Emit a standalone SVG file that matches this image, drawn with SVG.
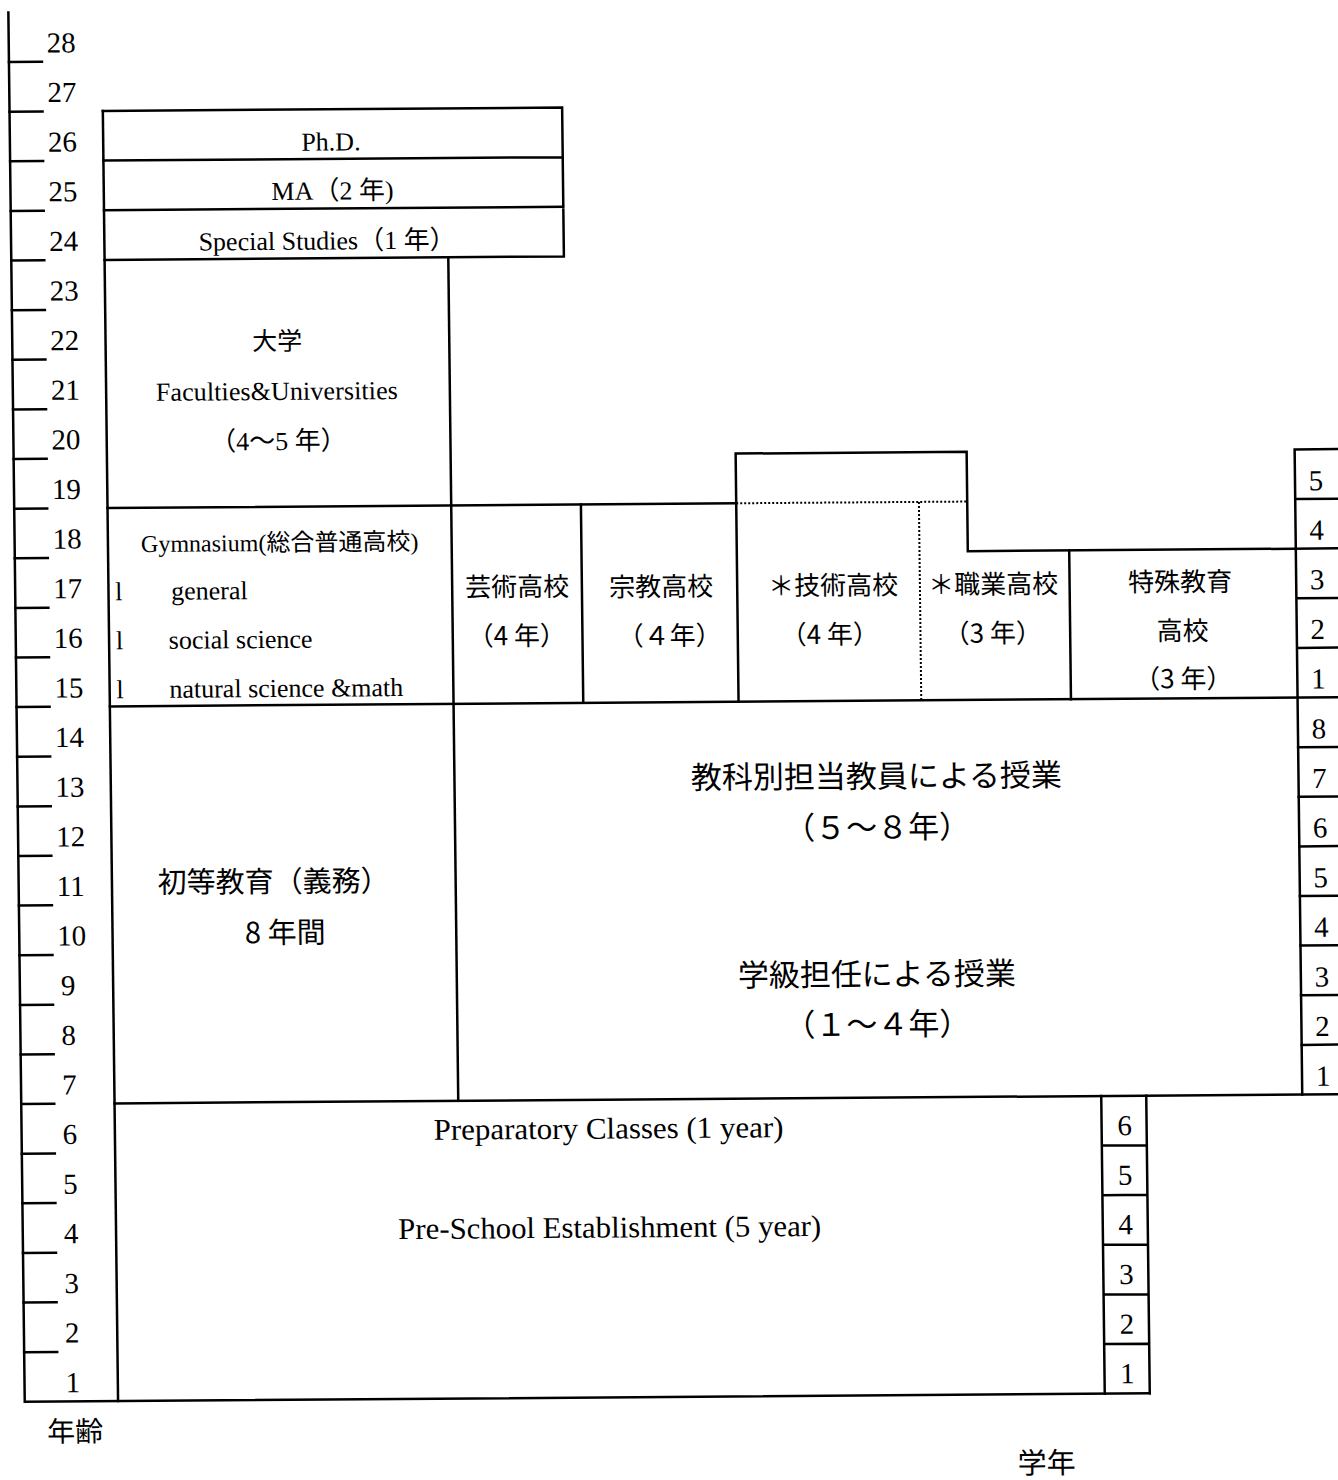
<svg xmlns="http://www.w3.org/2000/svg" width="1338" height="1480" viewBox="0 0 1338 1480">
<style>
.ln{stroke:#000;stroke-width:2.5;fill:none;stroke-linecap:square}
.dt{stroke:#000;stroke-width:2;fill:none;stroke-dasharray:2 2}
.num{font-family:"Liberation Serif",serif;font-size:29px;fill:#000}
.en{font-family:"Liberation Serif","Noto Sans CJK JP",serif;font-size:26px;fill:#000}
.ja{font-family:"Noto Sans CJK JP",sans-serif;font-size:26px;fill:#000}
.jb{font-family:"Noto Sans CJK JP",sans-serif;font-size:31px;fill:#000}
.m{text-anchor:middle}
</style>
<rect width="1338" height="1480" fill="#fff"/>
<g transform="matrix(1,-0.0075,0.0118,1,-8.73,5.02)">
<g id="grid">
<path class="ln" d="M17,7.6V1396.9H1142"/>
<path class="ln" d="M17,57.2H50M17,106.8H50M17,156.4H50M17,206H50M17,255.7H50M17,305.3H50M17,354.9H50M17,404.5H50M17,454.1H50M17,503.8H50M17,553.4H50M17,603H50M17,652.6H50M17,702.2H50M17,751.9H50M17,801.5H50M17,851.1H50M17,900.7H50M17,950.3H50M17,1000H50M17,1049.6H50M17,1099.2H50M17,1148.8H50M17,1198.4H50M17,1248H50M17,1297.7H50M17,1347.3H50"/>
<path class="ln" d="M110.3,106.8V1396.9"/>
<path class="ln" d="M110.3,106.8H569.6V255.7H110.3M110.3,156.4H569.6M110.3,206H569.6"/>
<path class="ln" d="M454,255.7V1099.2"/>
<path class="ln" d="M110.3,503.8H739"/>
<path class="dt" d="M739,503.8H970"/>
<path class="ln" d="M739,702.2V454.1H970V553.4H1345"/>
<path class="ln" d="M583.7,503.8V702.2"/>
<path class="dt" d="M921.7,503.8V702.2"/>
<path class="ln" d="M1071.4,553.4V702.2"/>
<path class="ln" d="M1298,454.1H1345M1298,454.1V1099.2M1298,503.8H1345M1298,603H1345M1298,652.6H1345"/>
<path class="ln" d="M110.3,702.2H1345"/>
<path class="ln" d="M1298,751.9H1345M1298,801.5H1345M1298,851.1H1345M1298,900.7H1345M1298,950.3H1345M1298,1000H1345M1298,1049.6H1345"/>
<path class="ln" d="M110.3,1099.2H1345"/>
<path class="ln" d="M1097,1099.2V1396.9M1142,1099.2V1396.9M1097,1148.8H1142M1097,1198.4H1142M1097,1248H1142M1097,1297.7H1142M1097,1347.3H1142"/>
</g>
<g id="age-labels" class="num">
<text x="55" y="47.9">28</text><text x="55" y="97.5">27</text><text x="55" y="147.1">26</text><text x="55" y="196.7">25</text>
<text x="55" y="246.3">24</text><text x="55" y="296">23</text><text x="55" y="345.6">22</text><text x="55" y="395.2">21</text>
<text x="55" y="444.8">20</text><text x="55" y="494.4">19</text><text x="55" y="544.1">18</text><text x="55" y="593.7">17</text>
<text x="55" y="643.3">16</text><text x="55" y="692.9">15</text><text x="55" y="742.5">14</text><text x="55" y="792.2">13</text>
<text x="55" y="841.8">12</text><text x="55" y="891.4">11</text><text x="55" y="941">10</text><text x="58" y="990.6">9</text>
<text x="58" y="1040.3">8</text><text x="58" y="1089.9">7</text><text x="58" y="1139.5">6</text><text x="58" y="1189.1">5</text>
<text x="58" y="1238.7">4</text><text x="58" y="1288.3">3</text><text x="58" y="1338">2</text><text x="58" y="1387.6">1</text>
</g>
<g id="phd"><text class="en m" x="338" y="148">Ph.D.</text></g>
<g id="ma"><text class="en m" x="339" y="197">MA（2 年)</text></g>
<g id="special"><text class="en m" x="333" y="247">Special Studies（1 年）</text></g>
<g id="university">
<text class="ja m" x="282" y="347" style="font-size:25px">大学</text>
<text class="en m" x="281" y="397" textLength="242">Faculties&amp;Universities</text>
<text class="en m" x="282" y="447">（4〜5 年）</text>
</g>
<g id="gymnasium">
<text class="en m" x="282" y="548" style="font-size:24px">Gymnasium(総合普通高校)</text>
<text class="en" x="117" y="596">l</text><text class="en" x="173" y="596">general</text>
<text class="en" x="117" y="645">l</text><text class="en" x="170" y="645">social science</text>
<text class="en" x="117" y="694">l</text><text class="en" x="170" y="694">natural science &amp;math</text>
</g>
<g id="art"><text class="ja m" x="519" y="595">芸術高校</text><text class="ja m" x="518" y="644">（4 年）</text></g>
<g id="religion"><text class="ja m" x="663" y="596">宗教高校</text><text class="ja m" x="671" y="645">（４年）</text></g>
<g id="technical"><text class="ja m" x="835" y="596">＊技術高校</text><text class="ja m" x="831" y="645">（4 年）</text></g>
<g id="vocational"><text class="ja m" x="995" y="596">＊職業高校</text><text class="ja m" x="994" y="645">（3 年）</text></g>
<g id="special-ed"><text class="ja m" x="1182" y="595">特殊教育</text><text class="ja m" x="1184" y="644">高校</text><text class="ja m" x="1184" y="692">（3 年）</text></g>
<g id="upper-grades" class="num">
<text class="m" x="1319" y="495">5</text><text class="m" x="1319" y="544.6">4</text><text class="m" x="1319" y="594.2">3</text><text class="m" x="1319" y="643.8">2</text><text class="m" x="1319" y="693.4">1</text>
</g>
<g id="subject-teachers"><text class="jb m" x="876" y="789">教科別担当教員による授業</text><text class="jb m" x="876" y="840">（５～８年）</text></g>
<g id="class-teacher"><text class="jb m" x="874" y="987">学級担任による授業</text><text class="jb m" x="874" y="1037">（１～４年）</text></g>
<g id="primary"><text class="ja m" x="272" y="889" style="font-size:29px">初等教育（義務）</text><text class="ja m" x="283" y="940" style="font-size:29px">8 年間</text></g>
<g id="lower-grades" class="num">
<text class="m" x="1319" y="743.2">8</text><text class="m" x="1319" y="792.8">7</text><text class="m" x="1319" y="842.4">6</text><text class="m" x="1319" y="892">5</text>
<text class="m" x="1319" y="941.7">4</text><text class="m" x="1319" y="991.3">3</text><text class="m" x="1319" y="1040.9">2</text><text class="m" x="1319" y="1090.5">1</text>
</g>
<g id="preschool">
<text class="en m" x="604" y="1138" style="font-size:30px" textLength="350" lengthAdjust="spacingAndGlyphs">Preparatory Classes (1 year)</text>
<text class="en m" x="604" y="1237" style="font-size:30px" textLength="423" lengthAdjust="spacingAndGlyphs">Pre-School Establishment (5 year)</text>
</g>
<g id="preschool-grades" class="num">
<text class="m" x="1120" y="1138.5">6</text><text class="m" x="1120" y="1188.1">5</text><text class="m" x="1120" y="1237.7">4</text>
<text class="m" x="1120" y="1287.3">3</text><text class="m" x="1120" y="1337">2</text><text class="m" x="1120" y="1386.6">1</text>
</g>
<g id="axis-titles">
<text class="ja m" x="67" y="1437" style="font-size:28px">年齢</text>
<text class="ja m" x="1038" y="1476" style="font-size:29px">学年</text>
</g>
</g>
</svg>
